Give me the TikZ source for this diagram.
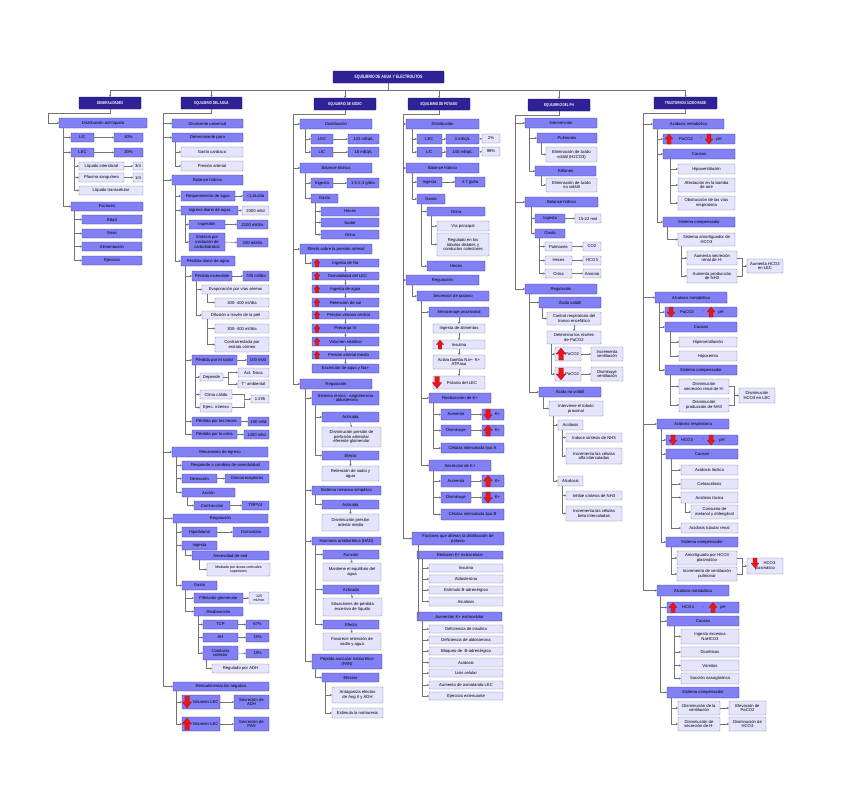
\documentclass[tikz,border=0pt]{standalone}
\usepackage{fontspec}
\setmainfont{Liberation Sans}
\usepackage{graphicx}
\usetikzlibrary{arrows.meta}
\definecolor{mfill}{RGB}{130,128,245}
\definecolor{mdraw}{RGB}{55,50,135}
\definecolor{lfill}{RGB}{228,228,252}
\definecolor{ldraw}{RGB}{120,120,155}
\definecolor{hfill}{RGB}{46,34,150}
\definecolor{hdraw}{RGB}{25,18,90}
\definecolor{lgray}{RGB}{115,115,115}
\definecolor{ared}{RGB}{232,22,22}
\newcommand\myfs{\fontsize{4.2}{4.8}\selectfont}
\newcommand\myfss{\fontsize{3.6}{4.1}\selectfont}
\newcommand\hdt[1]{\scalebox{0.72}[1]{#1}}
\tikzset{
 base/.style={rectangle, inner sep=0.4pt, outer sep=0pt, align=center, font=\myfs, line width=0.45pt, rounded corners=0.6pt},
 mbox/.style={base, fill=mfill, draw=mdraw},
 lbox/.style={base, fill=lfill, draw=ldraw},
 hbox/.style={base, fill=hfill, draw=hdraw, text=white, font=\myfs\bfseries},
 cn/.style={draw=lgray, line width=0.5pt, -{Stealth[length=2.2pt,width=2.2pt]}},
 ln/.style={draw=lgray, line width=0.5pt},
 txt/.style={inner sep=0pt, font=\myfs},
 redar/.style={fill=ared, draw=ared!70!black, line width=0.2pt}
}
\newcommand\Nd[7]{\pgfmathsetmacro\myW{#5-#3}\pgfmathsetmacro\myH{#6-#4}\node[#1,minimum width=\myW pt,minimum height=\myH pt] (#2) at ({(#3+#5)/2},{(#4+#6)/2}) {#7};}
\newcommand\Kd[3]{\draw[cn] ([xshift=#2pt]#1.south west) |- (#3.west);}
\newcommand\Hz[2]{\draw[cn] (#1.east) -- (#2.west);}
\newcommand\Vt[2]{\draw[cn] (#1.south) -- (#2.north);}
\newcommand\Tr[3]{\draw[cn] (#1.south) -- ++(0,4) -| (#2 |- #3.west) -- (#3.west);}
\newcommand\Tx[4]{\node[txt] (#1) at (#2,#3) {#4};}
\newcommand\UpA[3]{\filldraw[redar] (#1,#2-#3) -- (#1+0.8*#3,#2) -- (#1+0.4*#3,#2) -- (#1+0.4*#3,#2+#3) -- (#1-0.4*#3,#2+#3) -- (#1-0.4*#3,#2) -- (#1-0.8*#3,#2) -- cycle;}
\newcommand\DnA[3]{\filldraw[redar] (#1,#2+#3) -- (#1+0.8*#3,#2) -- (#1+0.4*#3,#2) -- (#1+0.4*#3,#2-#3) -- (#1-0.4*#3,#2-#3) -- (#1-0.4*#3,#2) -- (#1-0.8*#3,#2) -- cycle;}
\begin{document}
\begin{tikzpicture}[x=1pt,y=-1pt]
\useasboundingbox (0,0) rectangle (848,803);
% ---------- title and headers
\Nd{hbox,font=\fontsize{4.8}{5.4}\selectfont\bfseries}{title}{333}{71}{444}{83}{\hdt{EQUILIBRIO DE AGUA Y ELECTROLITOS}}
\Nd{hbox}{gen}{79}{97}{141}{109}{\hdt{GENERALIDADES}}
\Nd{hbox}{agu}{181}{97}{242}{109}{\hdt{EQUILIBRIO DEL AGUA}}
\Nd{hbox}{sod}{314}{98}{376}{110}{\hdt{EQUILIBRIO DE SODIO}}
\Nd{hbox}{pot}{408}{98}{470}{110}{\hdt{EQUILIBRIO DE POTASIO}}
\Nd{hbox}{ph}{528}{99}{590}{111}{\hdt{EQUILIBRIO DEL PH}}
\Nd{hbox}{tra}{654}{97}{717}{109}{\hdt{TRASTORNOS ÁCIDO-BASE}}
\foreach \h in {gen,agu,sod,pot,ph,tra}{\draw[cn] (title.south) -- ++(0,7) -| (\h.north);}
\coordinate (tG) at (48,0);
\coordinate (tA) at (163,0);
\coordinate (tS) at (293,0);
\coordinate (tP) at (403,0);
\coordinate (tH) at (515,0);
\coordinate (tT) at (643,0);
% ---------- Generalidades
\Nd{mbox}{gdist}{59}{118}{147}{128}{Distribución del líquido}
\Nd{mbox}{glic}{71}{133}{94}{142}{LIC}
\Nd{mbox}{g40}{114}{133}{143}{142}{40\%}
\Nd{mbox}{glec}{71}{148}{94}{157}{LEC}
\Nd{mbox}{g20}{114}{148}{143}{157}{20\%}
\Nd{lbox}{gint}{79}{162}{124}{170}{Líquido intersticial}
\Nd{lbox}{g34}{133}{162}{143}{170}{3/4}
\Nd{lbox}{gpla}{79}{173}{124}{182}{Plasma sanguíneo}
\Nd{lbox}{g14}{133}{173}{143}{182}{1/4}
\Nd{lbox}{gtra}{79}{186}{143}{195}{Líquido transcelular}
\Nd{mbox}{gfac}{71}{202}{143}{211}{Factores}
\Nd{mbox}{gedad}{82}{215}{142}{224}{Edad}
\Nd{mbox}{gsexo}{82}{229}{142}{238}{Sexo}
\Nd{mbox}{galim}{82}{242}{142}{251}{Alimentación}
\Nd{mbox}{geje}{82}{256}{142}{265}{Ejercicio}
\Tr{gen}{tG}{gdist}
\Kd{gdist}{4}{glic}\Kd{gdist}{4}{glec}\Kd{gdist}{4}{gfac}
\Hz{glic}{g40}\Hz{glec}{g20}\Hz{gint}{g34}\Hz{gpla}{g14}
\Kd{glec}{3}{gint}\Kd{glec}{3}{gpla}\Kd{glec}{3}{gtra}
\Kd{gfac}{3}{gedad}\Kd{gfac}{3}{gsexo}\Kd{gfac}{3}{galim}\Kd{gfac}{3}{geje}
% ---------- Equilibrio del agua
\Nd{mbox}{adis}{172}{119}{243}{128}{Disolvente universal}
\Nd{mbox}{adet}{172}{133}{243}{142}{Determinante para}
\Nd{lbox}{agc}{181}{147}{243}{157}{Gasto cardiaco}
\Nd{lbox}{apa}{181}{161}{243}{171}{Presión arterial}
\Nd{mbox}{abal}{172}{175}{243}{185}{Balance hídrico}
\Nd{mbox}{areq}{181}{191}{235}{201}{Requerimiento de agua}
\Nd{mbox}{a16}{243}{191}{268}{201}{<1,6L/día}
\Nd{mbox}{aing}{181}{206}{238}{215}{Ingreso diario de agua}
\Nd{lbox}{a2300}{242}{206}{269}{215}{2300 ml/d}
\Nd{mbox}{aingest}{189}{220}{225}{229}{Ingestión}
\Nd{mbox}{a2100}{237}{220}{268}{229}{2100 ml/día}
\Nd{mbox}{asin}{189}{233}{225}{251}{Síntesis por\\oxidación de\\carbohidratos}
\Nd{mbox}{a200}{237}{238}{268}{247}{200 ml/día}
\Nd{mbox}{aper}{181}{256}{235}{266}{Pérdida diaria de agua}
\Nd{mbox}{ains}{192}{271}{232}{281}{Pérdida insensible}
\Nd{mbox}{a700}{243}{271}{269}{281}{700 ml/día}
\Nd{lbox}{aevap}{202}{285}{269}{294}{Evaporación por vías aéreas}
\Nd{lbox}{a300a}{215}{298}{269}{307}{300- 400 ml/día}
\Nd{lbox}{adif}{202}{311}{269}{319}{Difusión a través de la piel}
\Nd{lbox}{a300b}{215}{324}{269}{333}{300- 400 ml/día}
\Nd{lbox}{acon}{215}{337}{269}{352}{Contrarrestada por\\estrato córneo}
\Nd{mbox}{asud}{192}{355}{237}{365}{Pérdida por el sudor}
\Nd{mbox}{a100a}{247}{355}{269}{365}{100 ml/d}
\Nd{lbox}{adep}{200}{373}{223}{381}{Depende}
\Nd{lbox}{aact}{238}{368}{269}{377}{Act. física}
\Nd{lbox}{atam}{238}{380}{269}{388}{T° ambiental}
\Nd{lbox}{acli}{200}{390}{232}{399}{Clima cálido}
\Nd{lbox}{aeje}{200}{403}{232}{412}{Ejerc. intenso}
\Nd{lbox}{a12}{251}{395}{269}{403}{1-2l/h}
\Nd{mbox}{ahec}{192}{417}{241}{426}{Pérdida por las heces}
\Nd{mbox}{a100b}{248}{417}{269}{426}{100 ml/d}
\Nd{mbox}{aori}{192}{430}{237}{439}{Pérdida por la orina}
\Nd{mbox}{a1400}{244}{430}{269}{439}{1400 ml/d}
\Nd{mbox}{amec}{172}{447}{268}{457}{Mecanismo de egreso}
\Nd{mbox}{aresp}{182}{461}{269}{470}{Responde a cambios de osmolalidad}
\Nd{mbox}{adetc}{182}{474}{217}{483}{Detección}
\Nd{mbox}{aosm}{225}{474}{269}{483}{Osmorreceptores}
\Nd{mbox}{aacc}{182}{488}{235}{497}{Acción}
\Nd{mbox}{acont}{194}{501}{230}{510}{Contracción}
\Nd{mbox}{atrp}{242}{501}{269}{510}{TRPV4}
\Nd{mbox}{areg}{173}{514}{268}{523}{Regulación}
\Nd{mbox}{ahip}{182}{527}{217}{537}{Hipotálamo}
\Nd{mbox}{aosmt}{233}{527}{269}{537}{Osmostato}
\Nd{mbox}{aingt}{182}{541}{217}{550}{Ingesta}
\Nd{mbox}{ased}{192}{551}{269}{560}{Necesidad de sed}
\Nd{lbox,font=\myfss}{amed}{207}{563}{270}{576}{Mediado por áreas corticales\\superiores}
\Nd{mbox}{agas}{182}{581}{217}{590}{Gasto}
\Nd{mbox}{afil}{194}{593}{243}{603}{Filtración glomerular}
\Nd{lbox,font=\myfss}{a125}{249}{592}{269}{604}{125\\ml/min}
\Nd{mbox}{areab}{194}{607}{243}{616}{Reabsorción}
\Nd{mbox}{atcp}{203}{620}{238}{629}{TCP}
\Nd{mbox}{a67}{246}{620}{269}{629}{67\%}
\Nd{mbox}{aah}{203}{633}{238}{642}{AH}
\Nd{mbox}{a15}{246}{633}{269}{642}{15\%}
\Nd{mbox}{acc}{203}{646}{238}{660}{Conducto\\colector}
\Nd{mbox}{a18}{246}{649}{269}{658}{18\%}
\Nd{lbox}{aadh}{212}{664}{269}{673}{Regulado por ADH}
\Nd{mbox}{aret}{173}{682}{269}{691}{Retroalimentación negativa}
\Nd{mbox}{avd}{182}{695}{220}{709}{\hspace*{9pt}Volumen LEC}
\Nd{mbox}{asadh}{234}{695}{269}{709}{Secreción de\\ADH}
\Nd{mbox}{avu}{182}{717}{220}{731}{\hspace*{9pt}Volumen LEC}
\Nd{mbox}{aspan}{234}{717}{269}{731}{Secreción de\\PAN}
\foreach \c in {adis,adet,abal,amec,areg,aret}{\Tr{agu}{tA}{\c}}
\Kd{adet}{3}{agc}\Kd{adet}{3}{apa}
\Kd{abal}{3}{areq}\Kd{abal}{3}{aing}\Kd{abal}{3}{aper}
\Hz{areq}{a16}\Hz{aing}{a2300}
\Kd{aing}{4}{aingest}\Kd{aing}{4}{asin}\Hz{aingest}{a2100}\Hz{asin}{a200}
\Kd{aper}{4}{ains}\Kd{aper}{4}{asud}\Kd{aper}{4}{ahec}\Kd{aper}{4}{aori}
\Hz{ains}{a700}
\Kd{ains}{4}{aevap}\Kd{ains}{4}{adif}
\Kd{aevap}{5}{a300a}
\Kd{adif}{5}{a300b}\Kd{adif}{5}{acon}
\Hz{asud}{a100a}
\Kd{asud}{3}{adep}\Kd{asud}{3}{acli}\Kd{asud}{3}{aeje}
\draw[cn] (adep.east) -- ++(5,0) |- (aact.west);
\draw[cn] (adep.east) -- ++(5,0) |- (atam.west);
\coordinate (j12) at (244,399);
\draw[ln] (acli.east) -| (j12) |- (aeje.east);
\draw[cn] (j12) -- (a12.west);
\Hz{ahec}{a100b}\Hz{aori}{a1400}
\Kd{amec}{4}{aresp}\Kd{amec}{4}{adetc}\Kd{amec}{4}{aacc}\Hz{adetc}{aosm}
\Kd{aacc}{5}{acont}\Hz{acont}{atrp}
\Kd{areg}{3}{ahip}\Kd{areg}{3}{aingt}\Kd{areg}{3}{agas}\Hz{ahip}{aosmt}
\Kd{aingt}{3}{ased}
\Kd{ased}{7}{amed}
\Kd{agas}{3}{afil}\Kd{agas}{3}{areab}\Hz{afil}{a125}
\Kd{areab}{4}{atcp}\Kd{areab}{4}{aah}\Kd{areab}{4}{acc}
\Hz{atcp}{a67}\Hz{aah}{a15}\Hz{acc}{a18}
\Kd{acc}{3}{aadh}
\Kd{aret}{3}{avd}\Kd{aret}{3}{avu}\Hz{avd}{asadh}\Hz{avu}{aspan}
\DnA{187}{702}{6}
\UpA{187}{724}{6}
% ---------- Equilibrio de sodio
\Nd{mbox}{sdis}{300}{119}{372}{129}{Distribución}
\Nd{mbox}{slec}{311}{134}{333}{144}{LEC}
\Nd{mbox}{s142}{348}{134}{379}{144}{142 mEq/L}
\Nd{mbox}{slic}{311}{147}{333}{157}{LIC}
\Nd{mbox}{s10}{348}{147}{379}{157}{10 mEq/L}
\Nd{mbox}{sbal}{300}{163}{372}{173}{Balance hídrico}
\Nd{mbox}{sing}{311}{178}{333}{188}{Ingesta}
\Nd{mbox}{s15}{347}{178}{379}{188}{1,5-2,3 g/día}
\Nd{mbox}{sgas}{311}{194}{338}{203}{Gasto}
\Nd{mbox}{shec}{321}{207}{379}{216}{Heces}
\Nd{mbox}{ssud}{321}{218}{379}{227}{Sudor}
\Nd{mbox}{sori}{321}{230}{379}{239}{Orina}
\Nd{mbox}{sefe}{300}{244}{372}{254}{Efecto sobre la presión arterial}
\Nd{mbox}{sc1}{312}{259}{379}{267}{Ingesta de Na}
\Nd{mbox}{sc2}{312}{272}{379}{280}{\hspace*{4pt}Osmolalidad del LEC}
\Nd{mbox}{sc3}{312}{285}{379}{293}{Ingesta de agua}
\Nd{mbox}{sc4}{312}{298}{379}{307}{Retención de sal}
\Nd{mbox}{sc5}{312}{311}{379}{319}{\hspace*{6pt}Presión venosa central}
\Nd{mbox}{sc6}{312}{324}{379}{333}{Precarga VI}
\Nd{mbox}{sc7}{312}{337}{379}{346}{Volumen sistólico}
\Nd{mbox}{sc8}{312}{351}{379}{359}{\hspace*{6pt}Presión arterial media}
\Nd{mbox}{sc9}{312}{364}{379}{373}{Excreción de agua y Na+}
\Nd{mbox}{sreg}{300}{379}{372}{389}{Regulación}
\Nd{mbox}{ssra}{312}{391}{379}{405}{Sistema renina - angiotensina\\- aldosterona}
\Nd{mbox}{sact1}{322}{412}{379}{422}{Activada}
\Nd{lbox}{sdis1}{322}{427}{381}{447}{Disminución presión de\\perfusión arteriolar\\eferente glomerular}
\Nd{mbox}{sefe1}{322}{451}{379}{460}{Efecto}
\Nd{lbox}{sret1}{322}{466}{379}{481}{Retención de sodio y\\agua}
\Nd{mbox}{ssns}{312}{486}{381}{495}{Sistema nervioso simpático}
\Nd{mbox}{sact2}{322}{500}{379}{509}{Activada}
\Nd{lbox}{sdis2}{322}{514}{379}{531}{Disminución presión\\arterial media}
\Nd{mbox}{shad}{312}{537}{381}{545}{Hormona antidiurética (HAD)}
\Nd{mbox}{sfun}{323}{550}{379}{559}{Función}
\Nd{lbox}{sman}{323}{563}{381}{581}{Mantiene el equilibrio del\\agua}
\Nd{mbox}{sact3}{323}{585}{379}{594}{Activada}
\Nd{lbox}{ssit}{323}{598}{382}{616}{Situaciones de pérdida\\excesiva de líquido}
\Nd{mbox}{sefe3}{323}{620}{379}{629}{Efecto}
\Nd{lbox}{sfav}{323}{633}{381}{650}{Favorece retención de\\sodio y agua}
\Nd{mbox}{span}{312}{654}{382}{669}{Péptido auricular natriurético\\(PAN)}
\Nd{mbox}{sefs}{322}{673}{379}{682}{Efectos}
\Nd{lbox}{sant}{332}{687}{383}{703}{Antagoniza efectos\\de Ang II y ADH}
\Nd{lbox}{sest}{332}{708}{383}{718}{Estimula la natriuresis}
\foreach \c in {sdis,sbal,sefe,sreg}{\Tr{sod}{tS}{\c}}
\Kd{sdis}{5}{slec}\Kd{sdis}{5}{slic}\Hz{slec}{s142}\Hz{slic}{s10}
\Kd{sbal}{5}{sing}\Kd{sbal}{5}{sgas}\Hz{sing}{s15}
\Kd{sgas}{4}{shec}\Kd{sgas}{4}{ssud}\Kd{sgas}{4}{sori}
\Kd{sefe}{5}{sc1}
\Vt{sc1}{sc2}\Vt{sc2}{sc3}\Vt{sc3}{sc4}\Vt{sc4}{sc5}\Vt{sc5}{sc6}\Vt{sc6}{sc7}\Vt{sc7}{sc8}\Vt{sc8}{sc9}
\Kd{sreg}{5}{ssra}\Kd{sreg}{5}{ssns}\Kd{sreg}{5}{shad}\Kd{sreg}{5}{span}
\Kd{ssra}{3}{sact1}\Kd{ssra}{3}{sefe1}\Vt{sact1}{sdis1}\Vt{sefe1}{sret1}
\Kd{ssns}{3}{sact2}\Vt{sact2}{sdis2}
\Kd{shad}{3}{sfun}\Kd{shad}{3}{sact3}\Kd{shad}{3}{sefe3}
\Vt{sfun}{sman}\Vt{sact3}{ssit}\Vt{sefe3}{sfav}
\Kd{span}{3}{sefs}
\Kd{sefs}{3}{sant}\Kd{sefs}{3}{sest}
\foreach \yy in {263,276,289,302.5,315,328.5,341.5,355}{\UpA{317}{\yy}{3.8}}
% ---------- Equilibrio de potasio
\Nd{mbox}{pdis}{406}{119}{479}{129}{Distribución}
\Nd{mbox}{plec}{417}{134}{442}{144}{LEC}
\Nd{mbox}{p4}{446}{134}{479}{144}{4 mEq/L}
\Nd{lbox}{p2}{482}{134}{500}{143}{2\%}
\Nd{mbox}{plic}{417}{147}{442}{157}{LIC}
\Nd{mbox}{p140}{446}{147}{479}{157}{140 mEq/L}
\Nd{lbox}{p98}{482}{147}{500}{156}{98\%}
\Nd{mbox}{pbal}{406}{163}{479}{173}{Balance hídrico}
\Nd{mbox}{ping}{417}{177}{442}{187}{Ingesta}
\Nd{mbox}{p47}{455}{177}{485}{187}{4.7 g/día}
\Nd{mbox}{pgas}{417}{194}{445}{204}{Gasto}
\Nd{mbox}{pori}{427}{207}{485}{216}{Orina}
\Nd{lbox}{pvia}{437}{221}{489}{231}{Vía principal}
\Nd{lbox}{preg1}{437}{233}{489}{256}{Regulado en los\\túbulos distales y\\conductos colectores}
\Nd{mbox}{phec}{427}{261}{485}{271}{Heces}
\Nd{mbox}{preg}{406}{275}{479}{285}{Regulación}
\Nd{mbox}{psec}{417}{291}{489}{301}{Secreción de potasio}
\Nd{mbox}{palm}{429}{307}{489}{317}{Almacenaje provisional}
\Nd{lbox}{palim}{433}{324}{485}{333}{Ingesta de alimentos}
\Nd{lbox}{pins}{433}{340}{485}{349}{Insulina}
\Nd{lbox}{pbom}{433}{355}{485}{369}{Activa bomba Na+- K+\\ATPasa}
\Nd{lbox}{ppot}{433}{376}{485}{389}{\hspace*{6pt}Potasio del LEC}
\Nd{mbox}{preab}{429}{393}{491}{403}{Reabsorción de K+}
\Nd{mbox}{pau1}{441}{409}{471}{420}{Aumenta}
\Nd{mbox}{pk1}{482}{409}{504}{420}{\hspace*{9pt}K+}
\Nd{mbox}{pdi1}{441}{425}{471}{436}{Disminuye}
\Nd{mbox}{pk2}{482}{425}{504}{436}{\hspace*{9pt}K+}
\Nd{mbox}{pca}{441}{443}{504}{453}{Células intercalada tipo A}
\Nd{mbox}{pseck}{429}{460}{491}{471}{Secreción de K+}
\Nd{mbox}{pau2}{441}{475}{471}{487}{Aumenta}
\Nd{mbox}{pk3}{482}{475}{504}{487}{\hspace*{9pt}K+}
\Nd{mbox}{pdi2}{441}{492}{471}{503}{Disminuye}
\Nd{mbox}{pk4}{482}{492}{504}{503}{\hspace*{9pt}K+}
\Nd{mbox}{pcb}{441}{509}{504}{520}{Células intercalada tipo B}
\Nd{mbox}{pfac}{412}{532}{504}{545}{Factores que alteran la distribución de\\potasio}
\Nd{mbox}{pred}{417}{551}{503}{559}{Reducen K+ extracelular}
\Nd{lbox}{pr1}{429}{564}{503}{572}{Insulina}
\Nd{lbox}{pr2}{429}{575}{503}{583}{Aldosterona}
\Nd{lbox}{pr3}{429}{586}{503}{594}{Estímulo B-adrenérgico}
\Nd{lbox}{pr4}{429}{597}{503}{606}{Alcalosis}
\Nd{mbox}{paum}{417}{612}{502}{621}{Aumentan K+ extracelular}
\Nd{lbox}{pa1}{429}{625}{503}{633}{Deficiencia de insulina}
\Nd{lbox}{pa2}{429}{636}{503}{644}{Deficiencia de aldosterona}
\Nd{lbox}{pa3}{429}{647}{503}{655}{Bloqueo de\ \ B-adrenérgico}
\Nd{lbox}{pa4}{429}{658}{503}{667}{Acidosis}
\Nd{lbox}{pa5}{429}{669}{503}{677}{Lisis celular}
\Nd{lbox}{pa6}{429}{681}{503}{689}{Aumento de osmolarida LEC}
\Nd{lbox}{pa7}{429}{692}{503}{700}{Ejercicio extenuante}
\foreach \c in {pdis,pbal,preg,pfac}{\Tr{pot}{tP}{\c}}
\Kd{pdis}{6}{plec}\Kd{pdis}{6}{plic}
\Hz{plec}{p4}\Hz{p4}{p2}\Hz{plic}{p140}\Hz{p140}{p98}
\Kd{pbal}{6}{ping}\Kd{pbal}{6}{pgas}\Hz{ping}{p47}
\Kd{pgas}{4}{pori}\Kd{pgas}{4}{phec}
\Kd{pori}{4}{pvia}\Kd{pori}{4}{preg1}
\Kd{preg}{6}{psec}
\Kd{psec}{4}{palm}\Kd{psec}{4}{preab}\Kd{psec}{4}{pseck}
\Vt{palm}{palim}\Vt{palim}{pins}\Vt{pins}{pbom}\Vt{pbom}{ppot}
\Kd{preab}{4}{pau1}\Kd{preab}{4}{pdi1}\Kd{preab}{4}{pca}\Hz{pau1}{pk1}\Hz{pdi1}{pk2}
\Kd{pseck}{4}{pau2}\Kd{pseck}{4}{pdi2}\Kd{pseck}{4}{pcb}\Hz{pau2}{pk3}\Hz{pdi2}{pk4}
\Kd{pfac}{6}{pred}\Kd{pfac}{6}{paum}
\foreach \c in {pr1,pr2,pr3,pr4}{\Kd{pred}{5}{\c}}
\foreach \c in {pa1,pa2,pa3,pa4,pa5,pa6,pa7}{\Kd{paum}{5}{\c}}
\UpA{440}{344.5}{4.5}
\DnA{437}{382.5}{6}
\DnA{488}{414.5}{5.5}
\UpA{488}{430.5}{5.5}
\UpA{488}{481}{5.5}
\DnA{488}{497.5}{5.5}
% ---------- Equilibrio del pH
\Nd{mbox}{hint}{525}{118}{597}{128}{Intervención}
\Nd{mbox}{hpul}{537}{133}{597}{143}{Pulmones}
\Nd{lbox}{hel1}{546}{147}{597}{162}{Eliminación de ácido\\volátil (H2CO3)}
\Nd{mbox}{hrin}{535}{166}{596}{176}{Riñones}
\Nd{lbox}{hel2}{546}{178}{597}{192}{Eliminación de ácido\\no volátil}
\Nd{mbox}{hbal}{525}{197}{598}{207}{Balance hídrico}
\Nd{mbox}{hing}{535}{214}{565}{223}{Ingesta}
\Nd{lbox}{h15}{575}{214}{601}{223}{15-22 mol}
\Nd{mbox}{hgas}{535}{229}{565}{238}{Gasto}
\Nd{lbox}{hpul2}{545}{242}{572}{251}{Pulmones}
\Nd{lbox}{hco2}{583}{242}{601}{251}{CO2}
\Nd{lbox}{hhec}{545}{256}{572}{265}{Heces}
\Nd{lbox}{hhco}{583}{256}{601}{265}{HCO3}
\Nd{lbox}{hori}{545}{269}{572}{278}{Orina}
\Nd{lbox}{hamo}{583}{269}{601}{278}{Amonio}
\Nd{mbox}{hreg}{525}{284}{597}{294}{Regulación}
\Nd{mbox}{hav}{539}{297}{601}{308}{Ácido volátil}
\Nd{lbox}{hcon}{547}{312}{601}{325}{Control respiratorio del\\tronco encefálico}
\Nd{lbox}{hdet}{547}{331}{601}{344}{Determina los niveles\\de PaCO2}
\Nd{lbox}{hup}{555}{347}{581}{361}{\hspace*{8pt}PaCO2}
\Nd{lbox}{hinc}{591}{347}{623}{361}{Incrementa\\ventilación}
\Nd{lbox}{hdn}{555}{367}{581}{381}{\hspace*{8pt}PaCO2}
\Nd{lbox}{hdis}{591}{367}{623}{381}{Disminuye\\ventilación}
\Nd{mbox}{hanv}{539}{387}{601}{397}{Ácido no volátil}
\Nd{lbox}{hintv}{549}{401}{603}{416}{Interviene el túbulo\\proximal}
\Nd{lbox}{hacid}{558}{420}{583}{430}{Acidosis}
\Nd{lbox}{hind}{566}{433}{622}{442}{Induce síntesis de NH3}
\Nd{lbox}{hialf}{566}{448}{622}{464}{Incrementa las células\\alfa intercaladas}
\Nd{lbox}{halc}{558}{476}{583}{486}{Alcalosis}
\Nd{lbox}{hinh}{566}{491}{622}{500}{Inhibe síntesis de NH3}
\Nd{lbox}{hibet}{566}{506}{622}{521}{Incrementa las células\\beta intercaladas}
\foreach \c in {hint,hbal,hreg}{\Tr{ph}{tH}{\c}}
\Kd{hint}{4}{hpul}\Kd{hint}{4}{hrin}\Kd{hpul}{4}{hel1}\Kd{hrin}{6}{hel2}
\Kd{hbal}{6}{hing}\Kd{hbal}{6}{hgas}\Hz{hing}{h15}
\Kd{hgas}{4}{hpul2}\Kd{hgas}{4}{hhec}\Kd{hgas}{4}{hori}
\Hz{hpul2}{hco2}\Hz{hhec}{hhco}\Hz{hori}{hamo}
\Kd{hreg}{4}{hav}\Kd{hreg}{4}{hanv}
\Kd{hav}{3}{hcon}\Vt{hcon}{hdet}
\Kd{hdet}{4}{hup}\Kd{hdet}{4}{hdn}\Hz{hup}{hinc}\Hz{hdn}{hdis}
\Kd{hanv}{4}{hintv}
\Kd{hintv}{4}{hacid}\Kd{hintv}{4}{halc}
\Kd{hacid}{4}{hind}\Kd{hacid}{4}{hialf}
\Kd{halc}{4}{hinh}\Kd{halc}{4}{hibet}
\UpA{561}{354}{6}
\DnA{561}{374}{6}
% ---------- Trastornos acido-base
\Nd{mbox}{tam}{653}{119}{724}{129}{Acidosis metabólica}
\Nd{mbox}{tam1}{663}{134}{735}{144}{}
\Nd{mbox}{tamc}{663}{149}{735}{159}{Causas}
\Nd{lbox}{th1}{678}{164}{735}{174}{Hipoventilación}
\Nd{lbox}{th2}{678}{178}{735}{192}{Afectación en la bomba\\de aire}
\Nd{lbox}{th3}{678}{196}{735}{210}{Obstrucción de las vías\\respiratoria}
\Nd{mbox}{tams}{663}{217}{735}{227}{Sistema compensador}
\Nd{lbox}{tamo}{678}{233}{735}{246}{Sistema amortiguador de\\HCO3}
\Nd{lbox}{taus}{687}{251}{737}{265}{Aumenta secreción\\renal de H-}
\Nd{lbox}{taup}{687}{269}{737}{283}{Aumenta producción\\de NH3}
\Nd{lbox}{tahc}{747}{259}{783}{273}{Aumenta HCO3\\en LEC}
\Nd{mbox}{tal}{655}{292}{727}{303}{Alcalosis metabólica}
\Nd{mbox}{tal1}{665}{307}{737}{317}{}
\Nd{mbox}{talc}{665}{322}{737}{332}{Causas}
\Nd{lbox}{thip}{679}{337}{737}{347}{Hiperventilación}
\Nd{lbox}{thpx}{679}{351}{737}{361}{Hipoxemia}
\Nd{mbox}{tals}{665}{365}{737}{375}{Sistema compensador}
\Nd{lbox}{tds}{679}{379}{729}{394}{Disminución\\secreción renal de H-}
\Nd{lbox}{tdp}{679}{398}{729}{412}{Disminución\\producción de NH3}
\Nd{lbox}{tdh}{739}{388}{775}{403}{Disminución\\HCO3 en LEC}
\Nd{mbox}{tar}{657}{419}{729}{429}{Acidosis respiratoria}
\Nd{mbox}{tar1}{666}{435}{738}{445}{}
\Nd{mbox}{tarc}{666}{449}{738}{459}{Causas}
\Nd{lbox}{tl}{681}{465}{738}{475}{Acidosis láctica}
\Nd{lbox}{tce}{681}{479}{738}{489}{Cetoacidosis}
\Nd{lbox}{ttx}{681}{492}{738}{503}{Acidosis tóxica}
\Nd{lbox}{tcm}{691}{505}{738}{519}{Consumo de\\metanol y etilenglicol}
\Nd{lbox}{ttr}{681}{523}{738}{533}{Acidosis tubular renal}
\Nd{mbox}{tars}{666}{537}{738}{547}{Sistema compensador}
\Nd{lbox}{tamh}{677}{551}{737}{565}{Amortiguado por HCO3\\plasmático}
\Nd{lbox}{tinv}{677}{567}{737}{581}{Incremento de ventilación\\pulmonar}
\Nd{lbox}{thp}{747}{558}{783}{574}{\hspace*{9pt}HCO3\\plasmático}
\Nd{mbox}{tal2}{657}{585}{729}{596}{Alcalosis metabólica}
\Nd{mbox}{tal21}{667}{602}{739}{613}{}
\Nd{mbox}{tal2c}{667}{616}{739}{626}{Causas}
\Nd{lbox}{tn1}{681}{629}{739}{644}{Ingesta excesiva\\NaHCO3}
\Nd{lbox}{tn2}{681}{647}{739}{657}{Diuréticos}
\Nd{lbox}{tn3}{681}{660}{739}{671}{Vómitos}
\Nd{lbox}{tn4}{681}{673}{739}{684}{Succión nasogástrica}
\Nd{mbox}{tal2s}{667}{687}{739}{698}{Sistema compensador}
\Nd{lbox}{tdv}{678}{701}{720}{715}{Disminución de la\\ventilación}
\Nd{lbox}{tev}{729}{701}{766}{715}{Elevación de\\PaCO2}
\Nd{lbox}{tdsh}{678}{717}{720}{731}{Disminución de\\secreción de H-}
\Nd{lbox}{tdhc}{729}{717}{766}{731}{Disminución de\\HCO3}
\foreach \c in {tam,tal,tar,tal2}{\Tr{tra}{tT}{\c}}
\Kd{tam}{4}{tam1}\Kd{tam}{4}{tamc}\Kd{tam}{4}{tams}
\Kd{tamc}{7}{th1}\Kd{tamc}{7}{th2}\Kd{tamc}{7}{th3}
\Kd{tams}{4}{tamo}
\Kd{tamo}{3}{taus}\Kd{tamo}{3}{taup}
\coordinate (jb1) at (742,266);
\draw[ln] (taus.east) -| (jb1) |- (taup.east);
\draw[cn] (jb1) -- (tahc.west);
\Kd{tal}{4}{tal1}\Kd{tal}{4}{talc}\Kd{tal}{4}{tals}
\Kd{talc}{5}{thip}\Kd{talc}{5}{thpx}
\Kd{tals}{5}{tds}\Kd{tals}{5}{tdp}
\coordinate (jb2) at (734,395.5);
\draw[ln] (tds.east) -| (jb2) |- (tdp.east);
\draw[cn] (jb2) -- (tdh.west);
\Kd{tar}{4}{tar1}\Kd{tar}{4}{tarc}\Kd{tar}{4}{tars}
\Kd{tarc}{5}{tl}\Kd{tarc}{5}{tce}\Kd{tarc}{5}{ttx}\Kd{tarc}{5}{ttr}
\Kd{ttx}{4}{tcm}
\Kd{tars}{5}{tamh}\Kd{tars}{5}{tinv}
\coordinate (jb3) at (742,566);
\draw[ln] (tamh.east) -| (jb3) |- (tinv.east);
\draw[cn] (jb3) -- (thp.west);
\Kd{tal2}{3}{tal21}\Kd{tal2}{3}{tal2c}\Kd{tal2}{3}{tal2s}
\Kd{tal2c}{7}{tn1}\Kd{tal2c}{7}{tn2}\Kd{tal2c}{7}{tn3}\Kd{tal2c}{7}{tn4}
\Kd{tal2s}{4}{tdv}\Kd{tal2s}{4}{tdsh}
\Hz{tdv}{tev}\Hz{tdsh}{tdhc}
% texts and icons of the pH boxes
\Tx{x1a}{686}{139}{PaCO2}\Tx{x1b}{701}{139}{-}\Tx{x1c}{719}{139}{pH}
\UpA{669}{139}{5}\DnA{709}{139}{5}
\Tx{x2a}{687}{312}{PaCO2}\Tx{x2b}{703}{312}{-}\Tx{x2c}{721}{312}{pH}
\DnA{671}{312}{5}\UpA{711}{312}{5}
\Tx{x3a}{687}{440}{HCO3}\Tx{x3b}{703}{440}{-}\Tx{x3c}{722}{440}{pH}
\DnA{673}{440}{5}\DnA{711}{440}{5}
\Tx{x4a}{688}{607.5}{HCO3}\Tx{x4b}{703}{607.5}{-}\Tx{x4c}{723}{607.5}{pH}
\UpA{673}{607.5}{5}\UpA{713}{607.5}{5}
\DnA{755}{563}{5}
\end{tikzpicture}
\end{document}
